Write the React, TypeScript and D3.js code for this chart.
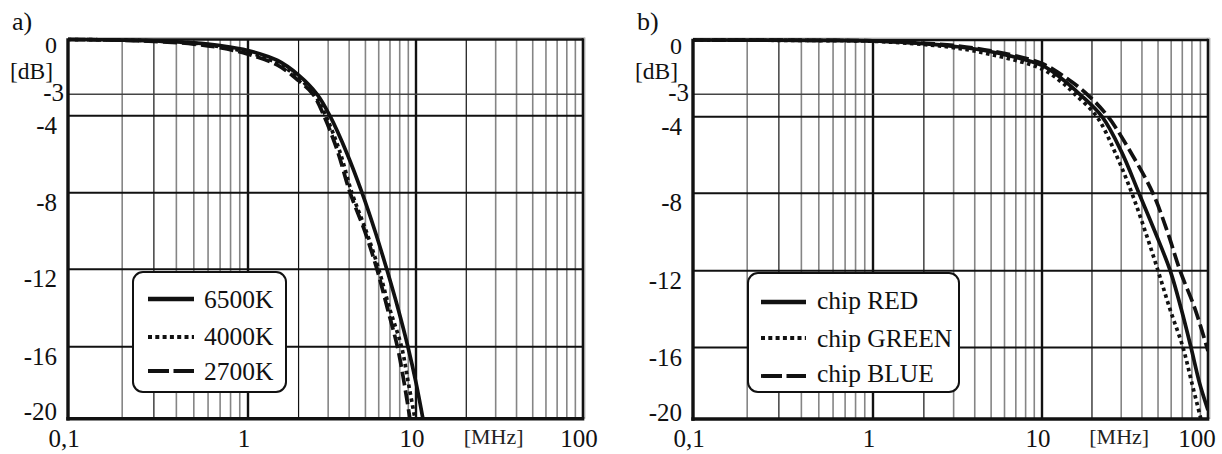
import React from 'react';
import * as d3 from 'd3';

const W = 1222;
const H = 454;

// ---- axis data ----
const freqTicks = [0.1, 1, 10, 100];
const freqTickLabels = ['0,1', '1', '10', '100'];
const minorFreqs = [0.2, 0.3, 0.4, 0.5, 0.6, 0.7, 0.8, 0.9, 2, 3, 4, 5, 6, 7, 8, 9, 20, 30, 40, 50, 60, 70, 80, 90];
const darkMinorFreqs = [0.3, 2, 20];
const dbTicks = [0, -3, -4, -8, -12, -16, -20];
const dbTickLabels = ['0', '-3', '-4', '-8', '-12', '-16', '-20'];
const xUnit = '[MHz]';
const yUnit = '[dB]';

// ---- panel a) data ----
const namesA = ['6500K', '4000K', '2700K'];
const fA6500 = [0.1, 0.2, 0.3, 0.5, 0.7, 1, 1.5, 2, 2.58, 3.07, 3.9, 4.77, 5.7, 6.7, 7.8, 8.95, 10, 11];
const dbA6500 = [0, -0.03, -0.07, -0.18, -0.33, -0.6, -1.15, -1.95, -3, -4, -6, -8, -10, -12, -14, -16, -18, -20];
const fA4000 = [0.1, 0.2, 0.3, 0.5, 0.7, 1, 1.5, 2, 2.48, 2.9, 3.5, 4.15, 5.05, 6.0, 6.95, 8.2, 9.0, 9.86];
const dbA4000 = [0, -0.03, -0.08, -0.2, -0.4, -0.7, -1.3, -2.1, -3, -4, -5.8, -8, -10, -12, -14, -16, -18, -20];
const fA2700 = [0.1, 0.2, 0.3, 0.5, 0.7, 1, 1.5, 2, 2.44, 2.83, 3.4, 4.05, 4.95, 5.86, 6.75, 7.75, 8.5, 9.2];
const dbA2700 = [0, -0.04, -0.1, -0.25, -0.45, -0.8, -1.4, -2.25, -3, -4, -5.8, -8, -10, -12, -14, -16, -18, -20];

// ---- panel b) data ----
const namesB = ['chip RED', 'chip GREEN', 'chip BLUE'];
const fBRed = [0.1, 0.5, 1, 2, 3, 5, 10, 13, 16.9, 23, 30, 38.4, 48, 59.2, 69, 79, 89, 100];
const dbBRed = [0, -0.02, -0.05, -0.2, -0.35, -0.65, -1.4, -2.1, -3, -4, -5.8, -8, -10, -12, -14, -16, -18, -19.5];
const fBGreen = [0.1, 0.5, 1, 2, 3, 5, 10, 13, 15.8, 21.4, 28, 34.8, 42, 50, 59, 70.7, 80, 90.6];
const dbBGreen = [0, -0.03, -0.07, -0.25, -0.42, -0.8, -1.6, -2.3, -3, -4, -6, -8, -10, -12, -14, -16, -18, -20];
const fBBlue = [0.1, 0.5, 1, 2, 3, 5, 10, 14, 18.7, 25, 35, 46.6, 57, 67.9, 83.6, 100];
const dbBBlue = [0, -0.02, -0.05, -0.18, -0.3, -0.6, -1.3, -2.1, -3, -4, -6, -8, -10, -12, -14, -16.2];

const DASHES = [null, '3.5 3.5', '14 5'];
const LEGEND_DASHES = [null, '4 3.3', '21 4.5'];
const FONT = '"Liberation Serif", "Times New Roman", serif';

type Panel = {
  tag: string;
  tagX: number;
  xr: number[];
  yr: number[];
  names: string[];
  series: { f: number[]; db: number[] }[];
  legend: { x0: number; y0: number; x1: number; y1: number; lineX0: number; lineX1: number; textX: number; rows: number[]; base: number[] };
};

const panels: Panel[] = [
  {
    tag: 'a)', tagX: 12,
    xr: [68, 248, 416, 583],
    yr: [39.5, 94.3, 115.7, 192.7, 269.3, 346.7, 418.7],
    names: namesA,
    series: [{ f: fA6500, db: dbA6500 }, { f: fA4000, db: dbA4000 }, { f: fA2700, db: dbA2700 }],
    legend: { x0: 133, y0: 272, x1: 286, y1: 392, lineX0: 148, lineX1: 194, textX: 204, rows: [299, 337, 371], base: [308, 345, 380] },
  },
  {
    tag: 'b)', tagX: 637,
    xr: [693, 873, 1042, 1208],
    yr: [40, 94.3, 116.7, 193.3, 270.7, 347.5, 419],
    names: namesB,
    series: [{ f: fBRed, db: dbBRed }, { f: fBGreen, db: dbBGreen }, { f: fBBlue, db: dbBBlue }],
    legend: { x0: 748, y0: 273, x1: 959, y1: 392, lineX0: 761, lineX1: 806, textX: 817, rows: [302, 338, 376], base: [309, 347, 382] },
  },
];

function PanelView({ p, idx }: { p: Panel; idx: number }) {
  const x = d3.scaleLog().domain(freqTicks).range(p.xr);
  const y = d3.scaleLinear().domain(dbTicks).range(p.yr);
  const left = p.xr[0], right = p.xr[p.xr.length - 1];
  const top = p.yr[0], bottom = p.yr[p.yr.length - 1];
  const line = d3.line<[number, number]>()
    .x((d) => x(d[0]))
    .y((d) => y(d[1]))
    .curve(d3.curveCatmullRom.alpha(0.5));
  const clipId = `clip${idx}`;

  const yLabelDy = (v: number) => {
    if (v === 0) return 13.5;
    if (v === -3) return 7;
    if (v === -20) return 1.5;
    return 18;
  };
  const yLabelDx = (v: number) => (v === -3 ? 4 : 11);

  const lg = p.legend;
  return (
    <g>
      <defs>
        <clipPath id={clipId}>
          <rect x={left} y={top - 3} width={right - left} height={bottom - top + 3} />
        </clipPath>
      </defs>
      {/* shadow of frame */}
      <line x1={left} x2={right + 2} y1={top - 2} y2={top - 2} stroke="#c8c8c8" strokeWidth={1.2} />
      <line x1={right + 2} x2={right + 2} y1={top - 2} y2={bottom} stroke="#c8c8c8" strokeWidth={1.2} />
      {/* minor vertical grid */}
      {minorFreqs.map((f) => {
        const dark = darkMinorFreqs.includes(f);
        return (
          <line key={'m' + f} x1={x(f)} x2={x(f)} y1={top} y2={bottom}
            stroke={dark ? '#111' : '#858585'} strokeWidth={dark ? 1.2 : 1.6} />
        );
      })}
      {/* major vertical grid */}
      {freqTicks.slice(1, -1).map((f) => (
        <line key={'M' + f} x1={x(f)} x2={x(f)} y1={top} y2={bottom} stroke="#111" strokeWidth={2.4} />
      ))}
      {/* horizontal grid */}
      {dbTicks.slice(1, -1).map((v) => (
        <line key={'h' + v} x1={left} x2={right} y1={y(v)} y2={y(v)}
          stroke={v === -3 ? '#444' : '#111'} strokeWidth={v === -3 ? 1.4 : 2} />
      ))}
      {/* curves */}
      <g clipPath={`url(#${clipId})`}>
        {p.series.map((s, i) => (
          <path key={'s' + i}
            d={line(s.f.map((f, k) => [f, s.db[k]] as [number, number])) || ''}
            fill="none" stroke="#111" strokeWidth={3.7}
            strokeDasharray={DASHES[i] || undefined} strokeLinecap="butt" />
        ))}
      </g>
      {/* frame */}
      <line x1={left} x2={right} y1={top} y2={top} stroke="#111" strokeWidth={2.6} />
      <line x1={right} x2={right} y1={top - 1.3} y2={bottom} stroke="#111" strokeWidth={2.6} />
      <line x1={left} x2={left} y1={top - 1.3} y2={bottom + 1.7} stroke="#111" strokeWidth={3.4} />
      <line x1={left - 1.7} x2={right + 1.3} y1={bottom} y2={bottom} stroke="#111" strokeWidth={3.4} />
      {/* legend */}
      <rect x={lg.x0} y={lg.y0} width={lg.x1 - lg.x0} height={lg.y1 - lg.y0} rx={10} ry={10}
        fill="#fff" stroke="#111" strokeWidth={2} />
      {p.names.map((n, i) => (
        <g key={'l' + i}>
          <line x1={lg.lineX0} x2={lg.lineX1} y1={lg.rows[i]} y2={lg.rows[i]} stroke="#111"
            strokeWidth={i === 0 ? 4.4 : 3.8} strokeDasharray={LEGEND_DASHES[i] || undefined} />
          <text x={lg.textX} y={lg.base[i]} fontSize={25.5} fontFamily={FONT} fill="#111">{n}</text>
        </g>
      ))}
      {/* y tick labels */}
      {dbTicks.map((v, i) => (
        <text key={'yl' + v} x={left - yLabelDx(v)} y={y(v) + yLabelDy(v)} textAnchor="end"
          fontSize={v === 0 ? 24 : 25} fontFamily={FONT} fill="#111">{dbTickLabels[i]}</text>
      ))}
      <text x={left - 15} y={79} textAnchor="end" fontSize={23.5} fontFamily={FONT} fill="#111">{yUnit}</text>
      {/* x tick labels */}
      {freqTicks.map((f, i) => (
        <text key={'xl' + f} x={Math.min(x(f) - 4, W - 25)} y={447} textAnchor="middle"
          fontSize={25} fontFamily={FONT} fill="#111">{freqTickLabels[i]}</text>
      ))}
      <text x={x(30) - 2} y={444} textAnchor="middle" fontSize={22} fontFamily={FONT} fill="#222">{xUnit}</text>
      {/* panel tag */}
      <text x={p.tagX} y={30} fontSize={26} fontFamily={FONT} fill="#111">{p.tag}</text>
    </g>
  );
}

export default function App() {
  return (
    <svg width={W} height={H} viewBox={`0 0 ${W} ${H}`}
      style={{ position: 'absolute', left: 0, top: 0, background: '#fff' }}>
      <rect x={0} y={0} width={W} height={H} fill="#fff" />
      {panels.map((p, i) => <PanelView key={i} p={p} idx={i} />)}
    </svg>
  );
}
